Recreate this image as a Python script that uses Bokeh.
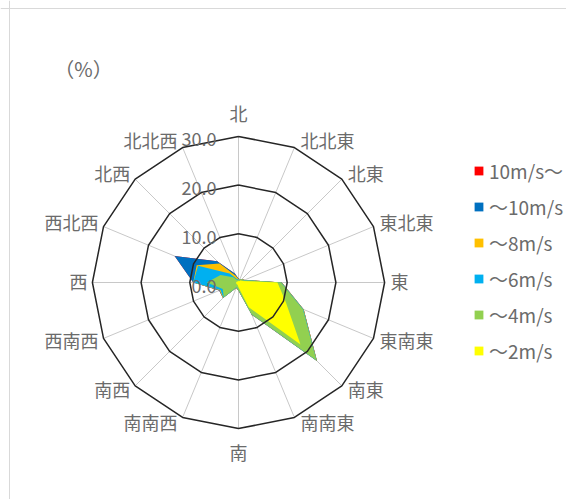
import numpy as np
from bokeh.plotting import figure
from bokeh.models import Range1d, Span, Legend, LegendItem, ColumnDataSource
from bokeh.core.properties import value
from bokeh.embed import file_html
from bokeh.resources import INLINE

# ---------------- data ----------------
directions = ["北", "北北東", "北東", "東北東", "東", "東南東", "南東", "南南東",
              "南", "南南西", "南西", "西南西", "西", "西北西", "北西", "北北西"]
series_names = ["10m/s～", "～10m/s", "～8m/s", "～6m/s", "～4m/s", "～2m/s"]
series_colors = ["#FF0000", "#0070C0", "#FFC000", "#00B0F0", "#92D050", "#FFFF00"]
# cumulative frequencies (%)
s_over10 = [0.8, 0.7, 1.0, 1.4, 8.9, 14.5, 22.8, 7.2, 1.7, 1.2, 4.5, 4.3, 9.3, 14.2, 6.2, 2.0]
s_to10 = [0.8, 0.7, 1.0, 1.4, 8.9, 14.5, 22.8, 7.2, 1.7, 1.2, 4.5, 4.3, 9.3, 14.2, 6.2, 2.0]
s_to8 = [0.7, 0.7, 1.0, 1.4, 8.9, 14.5, 22.8, 7.2, 1.7, 1.2, 4.5, 4.2, 9.3, 9.3, 5.5, 1.5]
s_to6 = [0.6, 0.6, 0.9, 1.3, 8.8, 14.4, 22.7, 7.1, 1.6, 1.1, 4.4, 4.0, 9.3, 9.0, 2.6, 0.8]
s_to4 = [0.5, 0.5, 0.8, 1.2, 8.7, 14.3, 22.6, 7.0, 1.5, 1.0, 4.3, 3.5, 6.5, 4.0, 1.5, 0.5]
s_to2 = [0.3, 0.3, 0.6, 0.8, 8.0, 10.5, 18.0, 5.5, 1.0, 0.5, 0.5, 0.5, 0.5, 0.4, 0.3, 0.3]
series_values = [s_over10, s_to10, s_to8, s_to6, s_to4, s_to2]
ring_values = [10.0, 20.0, 30.0]
tick_values = [0.0, 10.0, 20.0, 30.0]
tick_labels = ["0.0", "10.0", "20.0", "30.0"]
unit_label = "（%）"

# ---------------- layout ----------------
W, H = 566, 499
cx, cy = 238.0, 282.0      # centre in px (from top-left)
scale = 4.87               # px per percent
FONT = "Noto Sans CJK JP"
GRAY = "#6b6b6b"

p = figure(width=W, height=H, output_backend="svg", toolbar_location=None,
           x_axis_location=None, y_axis_location=None,
           x_range=Range1d(-cx / scale, (W - cx) / scale),
           y_range=Range1d(-(H - cy) / scale, cy / scale),
           min_border=0, min_border_left=0, min_border_right=0,
           min_border_top=0, min_border_bottom=0)
p.grid.visible = False
p.outline_line_color = None
p.background_fill_color = "white"
p.border_fill_color = "white"

# chart area border (left / top)
p.add_layout(Span(location=(9 - cx) / scale, dimension="height",
                  line_color="#d9d9d9", line_width=1))
p.add_layout(Span(location=(cy - 8) / scale, dimension="width",
                  line_color="#d9d9d9", line_width=1))

n = len(directions)
theta = np.arange(n) * 2 * np.pi / n
sx, sy = np.sin(theta), np.cos(theta)
rmax = ring_values[-1]

# spokes
p.segment(x0=np.zeros(n), y0=np.zeros(n), x1=rmax * sx, y1=rmax * sy,
          line_color="#c8c8c8", line_width=1)

# data polygons
items = []
for name, col, vals in zip(series_names, series_colors, series_values):
    v = np.array(vals)
    xs = list(v * sx) + [v[0] * sx[0]]
    ys = list(v * sy) + [v[0] * sy[0]]
    r = p.patch(xs, ys, fill_color=col, line_color=None)
    items.append(LegendItem(label=name, renderers=[r]))

# rings
for rv in ring_values:
    xs = list(rv * sx) + [rv * sx[0]]
    ys = list(rv * sy) + [rv * sy[0]]
    p.line(xs, ys, line_color="#262626", line_width=1.5)

# tick labels
p.text(x=np.zeros(len(tick_values)), y=tick_values, text=tick_labels,
       text_align="right", text_baseline="middle", x_offset=-22, y_offset=3,
       text_font=value(FONT), text_font_size="18px", text_color=GRAY)

# direction labels: anchored at the outer-ring vertex with screen offsets
aligns, xoff, yoff = [], [], []
for a, b in zip(sx, sy):
    if abs(a) < 0.1:
        aligns.append("center")
        xoff.append(0.0)
        yoff.append(-23.5 * b)
    else:
        aligns.append("left" if a > 0 else "right")
        xoff.append(6.0 if a > 0 else -5.0)
        yoff.append(-1.5 - 7.0 * b)
src = ColumnDataSource(dict(x=rmax * sx, y=rmax * sy, t=directions,
                            al=aligns, xo=xoff, yo=yoff))
p.text(x="x", y="y", text="t", text_align="al", text_baseline="middle",
       x_offset="xo", y_offset="yo", source=src,
       text_font=value(FONT), text_font_size="18px", text_color=GRAY)

# unit label
p.text(x=[(83 - cx) / scale], y=[(cy - 68) / scale], text=[unit_label],
       text_align="center", text_baseline="middle",
       text_font=value(FONT), text_font_size="20px", text_color=GRAY)

legend = Legend(items=items, location=(473, 135), orientation="vertical",
                glyph_width=11, glyph_height=11, label_height=20, spacing=9,
                label_standoff=5, padding=0, margin=0,
                border_line_color=None, background_fill_alpha=0,
                label_text_font=FONT, label_text_font_size="19px",
                label_text_color=GRAY)
p.add_layout(legend)

open("out.html", "w").write(file_html(p, INLINE))
